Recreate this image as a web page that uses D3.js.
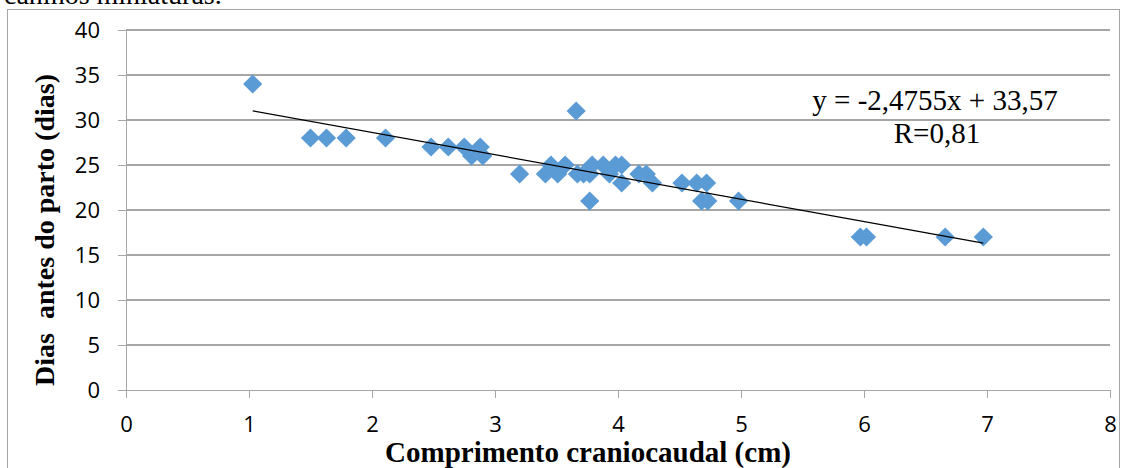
<!DOCTYPE html>
<html lang="pt">
<head>
<meta charset="utf-8">
<title>Dias antes do parto x Comprimento craniocaudal</title>
<style>
body { margin: 0; background: #fff; }
.axis text { font: 22px "Open Sans", "Liberation Sans", sans-serif; fill: #000; }
.axis path, .axis line { stroke: #a6a6a6; stroke-width: 1.3px; shape-rendering: crispEdges; }
.grid line { stroke: #a6a6a6; stroke-width: 1.5px; shape-rendering: crispEdges; }
.title { font-family: "Liberation Serif", "Times New Roman", serif; font-weight: bold; fill: #000; }
.eq { font-family: "Liberation Serif", "Times New Roman", serif; fill: #000; }
</style>
</head>
<body>
<div id="chart"></div>
<script src="https://d3js.org/d3.v7.min.js"></script>
<script>
// comprimento craniocaudal (cm)
var ccl = [1.03, 1.50, 1.63, 1.79, 2.11, 2.48, 2.62, 2.75, 2.81, 2.88, 2.90,
  3.20, 3.41, 3.455, 3.51, 3.57, 3.66, 3.67, 3.72, 3.77, 3.79, 3.77, 3.88, 3.93, 3.98, 4.03, 4.03,
  4.17, 4.23, 4.28, 4.52, 4.64, 4.68, 4.72, 4.73, 4.98, 5.97, 6.02, 6.66, 6.97];
// dias antes do parto
var dias = [34, 28, 28, 28, 28, 27, 27, 27, 26, 27, 26,
  24, 24, 25, 24, 25, 31, 24, 24, 21, 25, 24, 25, 24, 25, 25, 23,
  24, 24, 23, 23, 23, 21, 23, 21, 21, 17, 17, 17, 17];
var xTicks = [0, 1, 2, 3, 4, 5, 6, 7, 8];
var yTicks = [0, 5, 10, 15, 20, 25, 30, 35, 40];
var slope = -2.4755, intercept = 33.57;

var W = 1123, H = 468;
var svg = d3.select("#chart").append("svg")
    .attr("width", W)
    .attr("height", H);

// frame around the chart
svg.append("rect")
    .attr("x", 7.5).attr("y", 9.5)
    .attr("width", 1112).attr("height", 470)
    .attr("fill", "none")
    .attr("stroke", "#a6a6a6")
    .attr("stroke-width", 1);

// leftover line of the text above (cut off in the original too)
svg.append("text")
    .attr("x", 4).attr("y", 4)
    .attr("class", "eq")
    .style("font-size", "28px")
    .text("caninos miniaturas.");

var x = d3.scaleLinear().domain([0, 8]).range([126, 1110]);
var y = d3.scaleLinear().domain([0, 40]).range([390, 30]);

// gridlines
svg.append("g")
    .attr("class", "grid")
  .selectAll("line")
  .data(yTicks.filter(function(d) { return d > 0; }))
  .enter().append("line")
    .attr("x1", x(0)).attr("x2", x(8))
    .attr("y1", function(d) { return y(d); })
    .attr("y2", function(d) { return y(d); });

// x axis
svg.append("g")
    .attr("class", "axis")
    .attr("transform", "translate(0," + y(0) + ")")
    .call(d3.axisBottom(x).tickValues(xTicks).tickSize(8).tickSizeOuter(0).tickPadding(18));

// y axis
svg.append("g")
    .attr("class", "axis")
    .attr("transform", "translate(" + x(0) + ",0)")
    .call(d3.axisLeft(y).tickValues(yTicks).tickSize(8).tickSizeOuter(0).tickPadding(18));

// points
var pts = ccl.map(function(v, i) { return [v, dias[i]]; });
svg.append("g")
  .selectAll("path")
  .data(pts)
  .enter().append("path")
    .attr("d", d3.symbol().type(d3.symbolSquare).size(185))
    .attr("transform", function(d) { return "translate(" + x(d[0]) + "," + y(d[1]) + ") rotate(45)"; })
    .attr("fill", "#5b9bd5");

// linear trend line
var xr = d3.extent(ccl);
svg.append("line")
    .attr("x1", x(xr[0])).attr("y1", y(slope * xr[0] + intercept))
    .attr("x2", x(xr[1])).attr("y2", y(slope * xr[1] + intercept))
    .attr("stroke", "#000")
    .attr("stroke-width", 1.3);

// equation
svg.append("text")
    .attr("class", "eq")
    .attr("x", 935).attr("y", 110)
    .attr("text-anchor", "middle")
    .style("font-size", "29px")
    .text("y = -2,4755x + 33,57");
svg.append("text")
    .attr("class", "eq")
    .attr("x", 937).attr("y", 143)
    .attr("text-anchor", "middle")
    .style("font-size", "29px")
    .text("R=0,81");

// axis titles
svg.append("text")
    .attr("class", "title")
    .attr("x", 588).attr("y", 462)
    .attr("text-anchor", "middle")
    .style("font-size", "29px")
    .text("Comprimento craniocaudal (cm)");

svg.append("text")
    .attr("class", "title")
    .attr("transform", "translate(54,230) rotate(-90)")
    .attr("text-anchor", "middle")
    .style("font-size", "28px")
    .style("white-space", "pre")
    .text("Dias  antes do parto (dias)");
</script>
</body>
</html>
